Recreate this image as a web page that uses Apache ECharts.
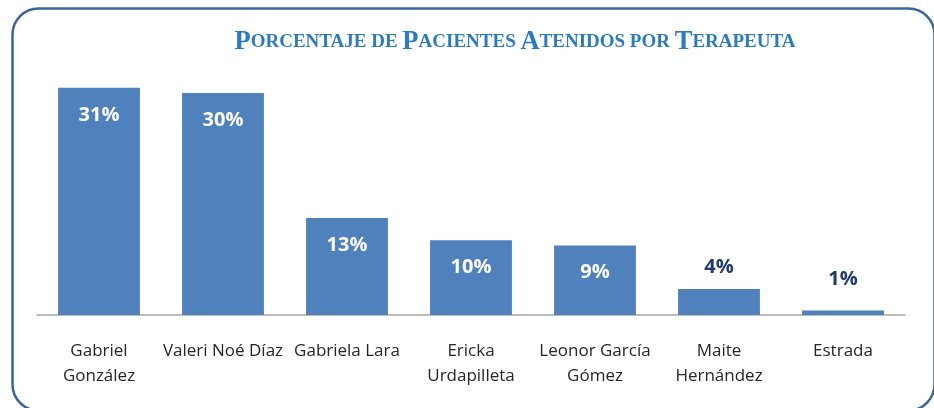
<!DOCTYPE html>
<html><head><meta charset="utf-8">
<script src="https://cdn.jsdelivr.net/npm/echarts@6/dist/echarts.min.js"></script>
<style>html,body{margin:0;padding:0;background:#fff}#c{width:934px;height:408px}</style>
</head><body><div id="c"></div>
<script>
const titleText = 'Porcentaje de Pacientes Atenidos por Terapeuta';
const categories = ['Gabriel\nGonzález', 'Valeri Noé Díaz', 'Gabriela Lara', 'Ericka\nUrdapilleta', 'Leonor García\nGómez', 'Maite\nHernández', 'Estrada'];
const values = [30.7, 30.0, 13.1, 10.1, 9.4, 3.5, 0.6];

// small-caps emulation using rich text
const titleRich = titleText.split(' ').map(w => {
  const first = w.charAt(0), rest = w.slice(1);
  const f = (first === first.toUpperCase()) ? '{cap|' + first + '}' : '{sc|' + first.toUpperCase() + '}';
  return f + (rest ? '{sc|' + rest.toUpperCase() + '}' : '');
}).join('{sc| }');

const chart = echarts.init(document.getElementById('c'));
chart.setOption({
  animation: false,
  graphic: [{
    type: 'rect', left: 10, top: 6,
    shape: { width: 922, height: 402, r: 26 },
    style: { fill: 'none', stroke: '#3a649e', lineWidth: 2.5 },
    z: 100
  }],
  title: {
    text: titleRich, left: 510, textAlign: 'center', top: 24,
    textStyle: {
      rich: {
        cap: { fontFamily: 'Liberation Serif', fontWeight: 'bold', fontSize: 26.5, color: '#2a7ac4' },
        sc: { fontFamily: 'Liberation Serif', fontWeight: 'bold', fontSize: 19, color: '#2a7ac4' }
      }
    }
  },
  grid: { left: 37, right: 29, top: 56, bottom: 93 },
  xAxis: {
    type: 'category', data: categories,
    axisLine: { lineStyle: { color: '#a6a6a6', width: 1.5 } },
    axisTick: { show: false },
    axisLabel: { interval: 0, margin: 24, color: '#262626', fontFamily: 'Open Sans', fontSize: 17, lineHeight: 25 }
  },
  yAxis: { type: 'value', min: 0, max: 35, show: false, splitLine: { show: false } },
  series: [{
    type: 'bar', barWidth: '66%',
    itemStyle: { color: '#4f81bd' },
    data: values.map((v, i) => {
      const d = { value: v };
      if (i === 5) d.label = { position: 'top', distance: 12, color: '#1f3a6e' };
      if (i === 6) d.label = { position: 'top', distance: 21, color: '#1f3a6e' };
      return d;
    }),
    label: {
      show: true, position: 'insideTop', distance: 17,
      formatter: p => Math.round(p.value) + '%',
      color: '#ffffff', fontFamily: 'Open Sans', fontWeight: 'bold', fontSize: 20
    }
  }]
});
</script></body></html>
